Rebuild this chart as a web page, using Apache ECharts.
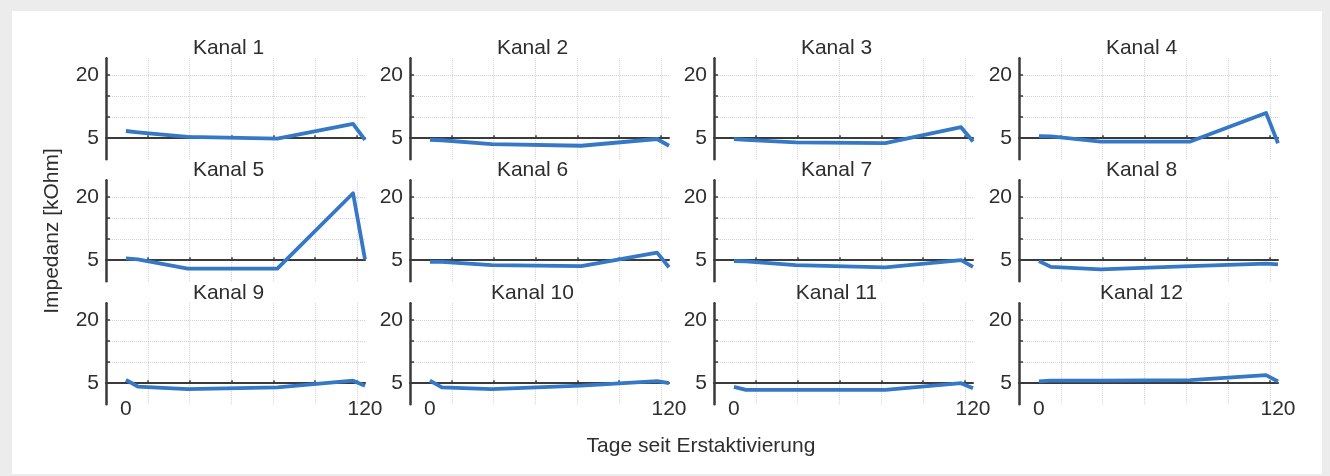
<!DOCTYPE html>
<html>
<head>
<meta charset="utf-8">
<title>Impedanz</title>
<script src="https://cdn.jsdelivr.net/npm/echarts@6/dist/echarts.min.js"></script>
<style>
  html, body { margin: 0; padding: 0; background: #ececec; }
  #frame { position: absolute; left: 12px; top: 11px; width: 1310px; height: 463px; background: #fff; }
  #chart { position: absolute; left: 0; top: 0; width: 1330px; height: 476px; }
</style>
</head>
<body>
<div id="frame"></div>
<div id="chart"></div>
<script>
// Tage der Messungen
const days = [0, 6, 31, 76, 114, 120];

// Impedanz je Kanal [kOhm]
const kanal1  = [6.7, 6.4, 5.3, 4.9, 8.4, 4.6];
const kanal2  = [4.6, 4.5, 3.6, 3.2, 4.8, 3.2];
const kanal3  = [4.8, 4.6, 4.0, 3.8, 7.6, 4.2];
const kanal4  = [5.5, 5.4, 4.2, 4.2, 11.0, 3.8];
const kanal5  = [5.4, 5.2, 3.0, 3.0, 20.9, 5.2];
const kanal6  = [4.6, 4.6, 3.8, 3.6, 6.8, 3.3];
const kanal7  = [4.8, 4.7, 3.8, 3.3, 5.0, 3.4];
const kanal8  = [4.8, 3.4, 2.8, 3.6, 4.2, 4.0];
const kanal9  = [5.8, 4.2, 3.6, 4.0, 5.6, 4.4];
const kanal10 = [5.6, 4.0, 3.6, 4.4, 5.5, 5.0];
const kanal11 = [4.1, 3.4, 3.4, 3.4, 5.0, 3.8];
const kanal12 = [5.4, 5.6, 5.6, 5.7, 6.9, 5.4];

const channels = [kanal1, kanal2, kanal3, kanal4, kanal5, kanal6,
                  kanal7, kanal8, kanal9, kanal10, kanal11, kanal12];
const titles = channels.map((_, i) => 'Kanal ' + (i + 1));

const yTicks = [5, 10, 15, 20];
const yLabels = [5, 20];
const xTicks = [11, 32, 53, 74, 95, 116];
const xLabels = [0, 120];

const xAxisName = 'Tage seit Erstaktivierung';
const yAxisName = 'Impedanz [kOhm]';

// layout
const colLeft = [106, 410, 714, 1019];
const rowTop = [58.2, 180.2, 303.2];
const gridW = 259;
const gridH = 101;
const FONT = '"Liberation Sans", Arial, Helvetica, sans-serif';
const TEXT = '#2e2e2e';
const AXIS = '#3a3a3a';
const GRIDC = '#d2d2d2';

const grids = [], xAxes = [], yAxes = [], series = [], texts = [];

channels.forEach((vals, i) => {
  const col = i % 4, row = Math.floor(i / 4);
  const left = colLeft[col], top = rowTop[row];
  grids.push({ left: left, top: top, width: gridW, height: gridH, outerBoundsMode: 'none' });

  xAxes.push({
    gridIndex: i, type: 'value', min: -10, max: 120, interval: 21,
    position: 'bottom', offset: -5 * gridH / 24, z: 1,
    axisLine: { onZero: false, lineStyle: { color: AXIS, width: 2 } },
    axisTick: { customValues: xTicks, inside: true, length: 3, lineStyle: { color: AXIS, width: 1.5 } },
    axisLabel: {
      show: row === 2, customValues: xLabels, margin: 16,
      color: TEXT, fontSize: 21, fontFamily: FONT
    },
    splitLine: { show: true, lineStyle: { type: 'dotted', color: GRIDC, width: 1 } }
  });

  yAxes.push({
    gridIndex: i, type: 'value', min: 0, max: 24, interval: 5,
    position: 'left',
    axisLine: { show: true, onZero: false, lineStyle: { color: AXIS, width: 2.5 } },
    axisTick: { show: true, customValues: yTicks, inside: true, length: 4, lineStyle: { color: AXIS, width: 1.5 } },
    axisLabel: { customValues: yLabels, margin: 7, color: TEXT, fontSize: 21, fontFamily: FONT },
    splitLine: { show: true, lineStyle: { type: 'dotted', color: GRIDC, width: 1 } }
  });

  series.push({
    type: 'line', xAxisIndex: i, yAxisIndex: i,
    data: days.map((d, k) => [d, vals[k]]),
    showSymbol: false, z: 3,
    lineStyle: { color: '#3478c6', width: 3.8, join: 'round' }
  });

  texts.push({
    type: 'text', x: left + gridW / 2 - 7, y: top - 10,
    style: { text: titles[i], align: 'center', verticalAlign: 'middle', fill: TEXT, font: '21px ' + FONT }
  });
});

texts.push({
  type: 'text', x: 701, y: 446,
  style: { text: xAxisName, align: 'center', verticalAlign: 'middle', fill: TEXT, font: '21px ' + FONT }
});
texts.push({
  type: 'text', x: 52, y: 231, rotation: Math.PI / 2,
  style: { text: yAxisName, align: 'center', verticalAlign: 'middle', fill: TEXT, font: '21px ' + FONT }
});

const chart = echarts.init(document.getElementById('chart'));
chart.setOption({
  animation: false,
  backgroundColor: 'transparent',
  grid: grids,
  xAxis: xAxes,
  yAxis: yAxes,
  series: series,
  graphic: texts
});
</script>
</body>
</html>
